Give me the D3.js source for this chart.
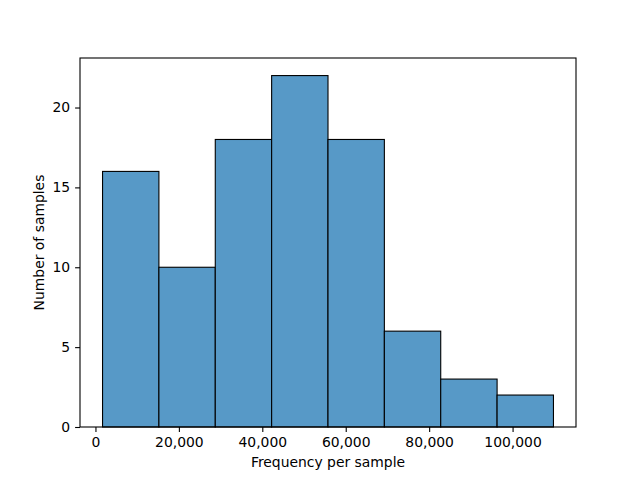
<!DOCTYPE html>
<html><head><meta charset="utf-8">
<script src="https://cdn.jsdelivr.net/npm/d3@7"></script>
<style>body{margin:0;background:#fff}svg{display:block}</style>
</head><body>
<script>
const binStart = 1700;
const binEnd = 109800;
const counts = [16, 10, 18, 22, 18, 6, 3, 2];
const xTicks = [0, 20000, 40000, 60000, 80000, 100000];
const yTicks = [0, 5, 10, 15, 20];
const xLabel = "Frequency per sample";
const yLabel = "Number of samples";

const W = 640, H = 480;
const m = {left: 80, right: 576, top: 58, bottom: 427};
const FS = 13.9;
const svg = d3.select("body").append("svg").attr("width", W).attr("height", H)
  .style("font-family", "DejaVu Sans, sans-serif");

const span = binEnd - binStart;
const x = d3.scaleLinear().domain([binStart - span*0.05, binEnd + span*0.05]).range([m.left, m.right]);
const yMax = d3.max(counts) * 1.05;
const y = d3.scaleLinear().domain([0, yMax]).range([m.bottom, m.top]);

const bw = span / counts.length;
const bins = counts.map((c, i) => ({x0: binStart + i*bw, x1: binStart + (i+1)*bw, c}));

svg.append("g").selectAll("rect").data(bins).join("rect")
  .attr("x", d => x(d.x0)).attr("y", d => y(d.c))
  .attr("width", d => x(d.x1) - x(d.x0)).attr("height", d => y(0) - y(d.c))
  .attr("fill", "#5799c7").attr("stroke", "#000").attr("stroke-width", 1.1);

const fmt = d3.format(",");
const xa = svg.append("g").attr("transform", `translate(0,${m.bottom})`)
  .call(d3.axisBottom(x).tickValues(xTicks).tickFormat(fmt).tickSize(4.9).tickPadding(4.9));
const ya = svg.append("g").attr("transform", `translate(${m.left},0)`)
  .call(d3.axisLeft(y).tickValues(yTicks).tickSize(4.9).tickPadding(4.9));
[xa, ya].forEach(a => {
  a.select(".domain").remove();
  a.selectAll("text").attr("font-size", FS).attr("fill", "#000").attr("font-family", "DejaVu Sans, sans-serif");
  a.selectAll("line").attr("stroke", "#000").attr("stroke-width", 1.1);
});

svg.append("rect").attr("x", m.left).attr("y", m.top)
  .attr("width", m.right - m.left).attr("height", m.bottom - m.top)
  .attr("fill", "none").attr("stroke", "#000").attr("stroke-width", 1.1);

svg.append("text").attr("x", (m.left + m.right)/2).attr("y", 467)
  .attr("text-anchor", "middle").attr("font-size", FS).text(xLabel);
svg.append("text").attr("transform", `translate(44,${(m.top + m.bottom)/2}) rotate(-90)`)
  .attr("text-anchor", "middle").attr("font-size", FS).text(yLabel);
</script>
</body></html>
